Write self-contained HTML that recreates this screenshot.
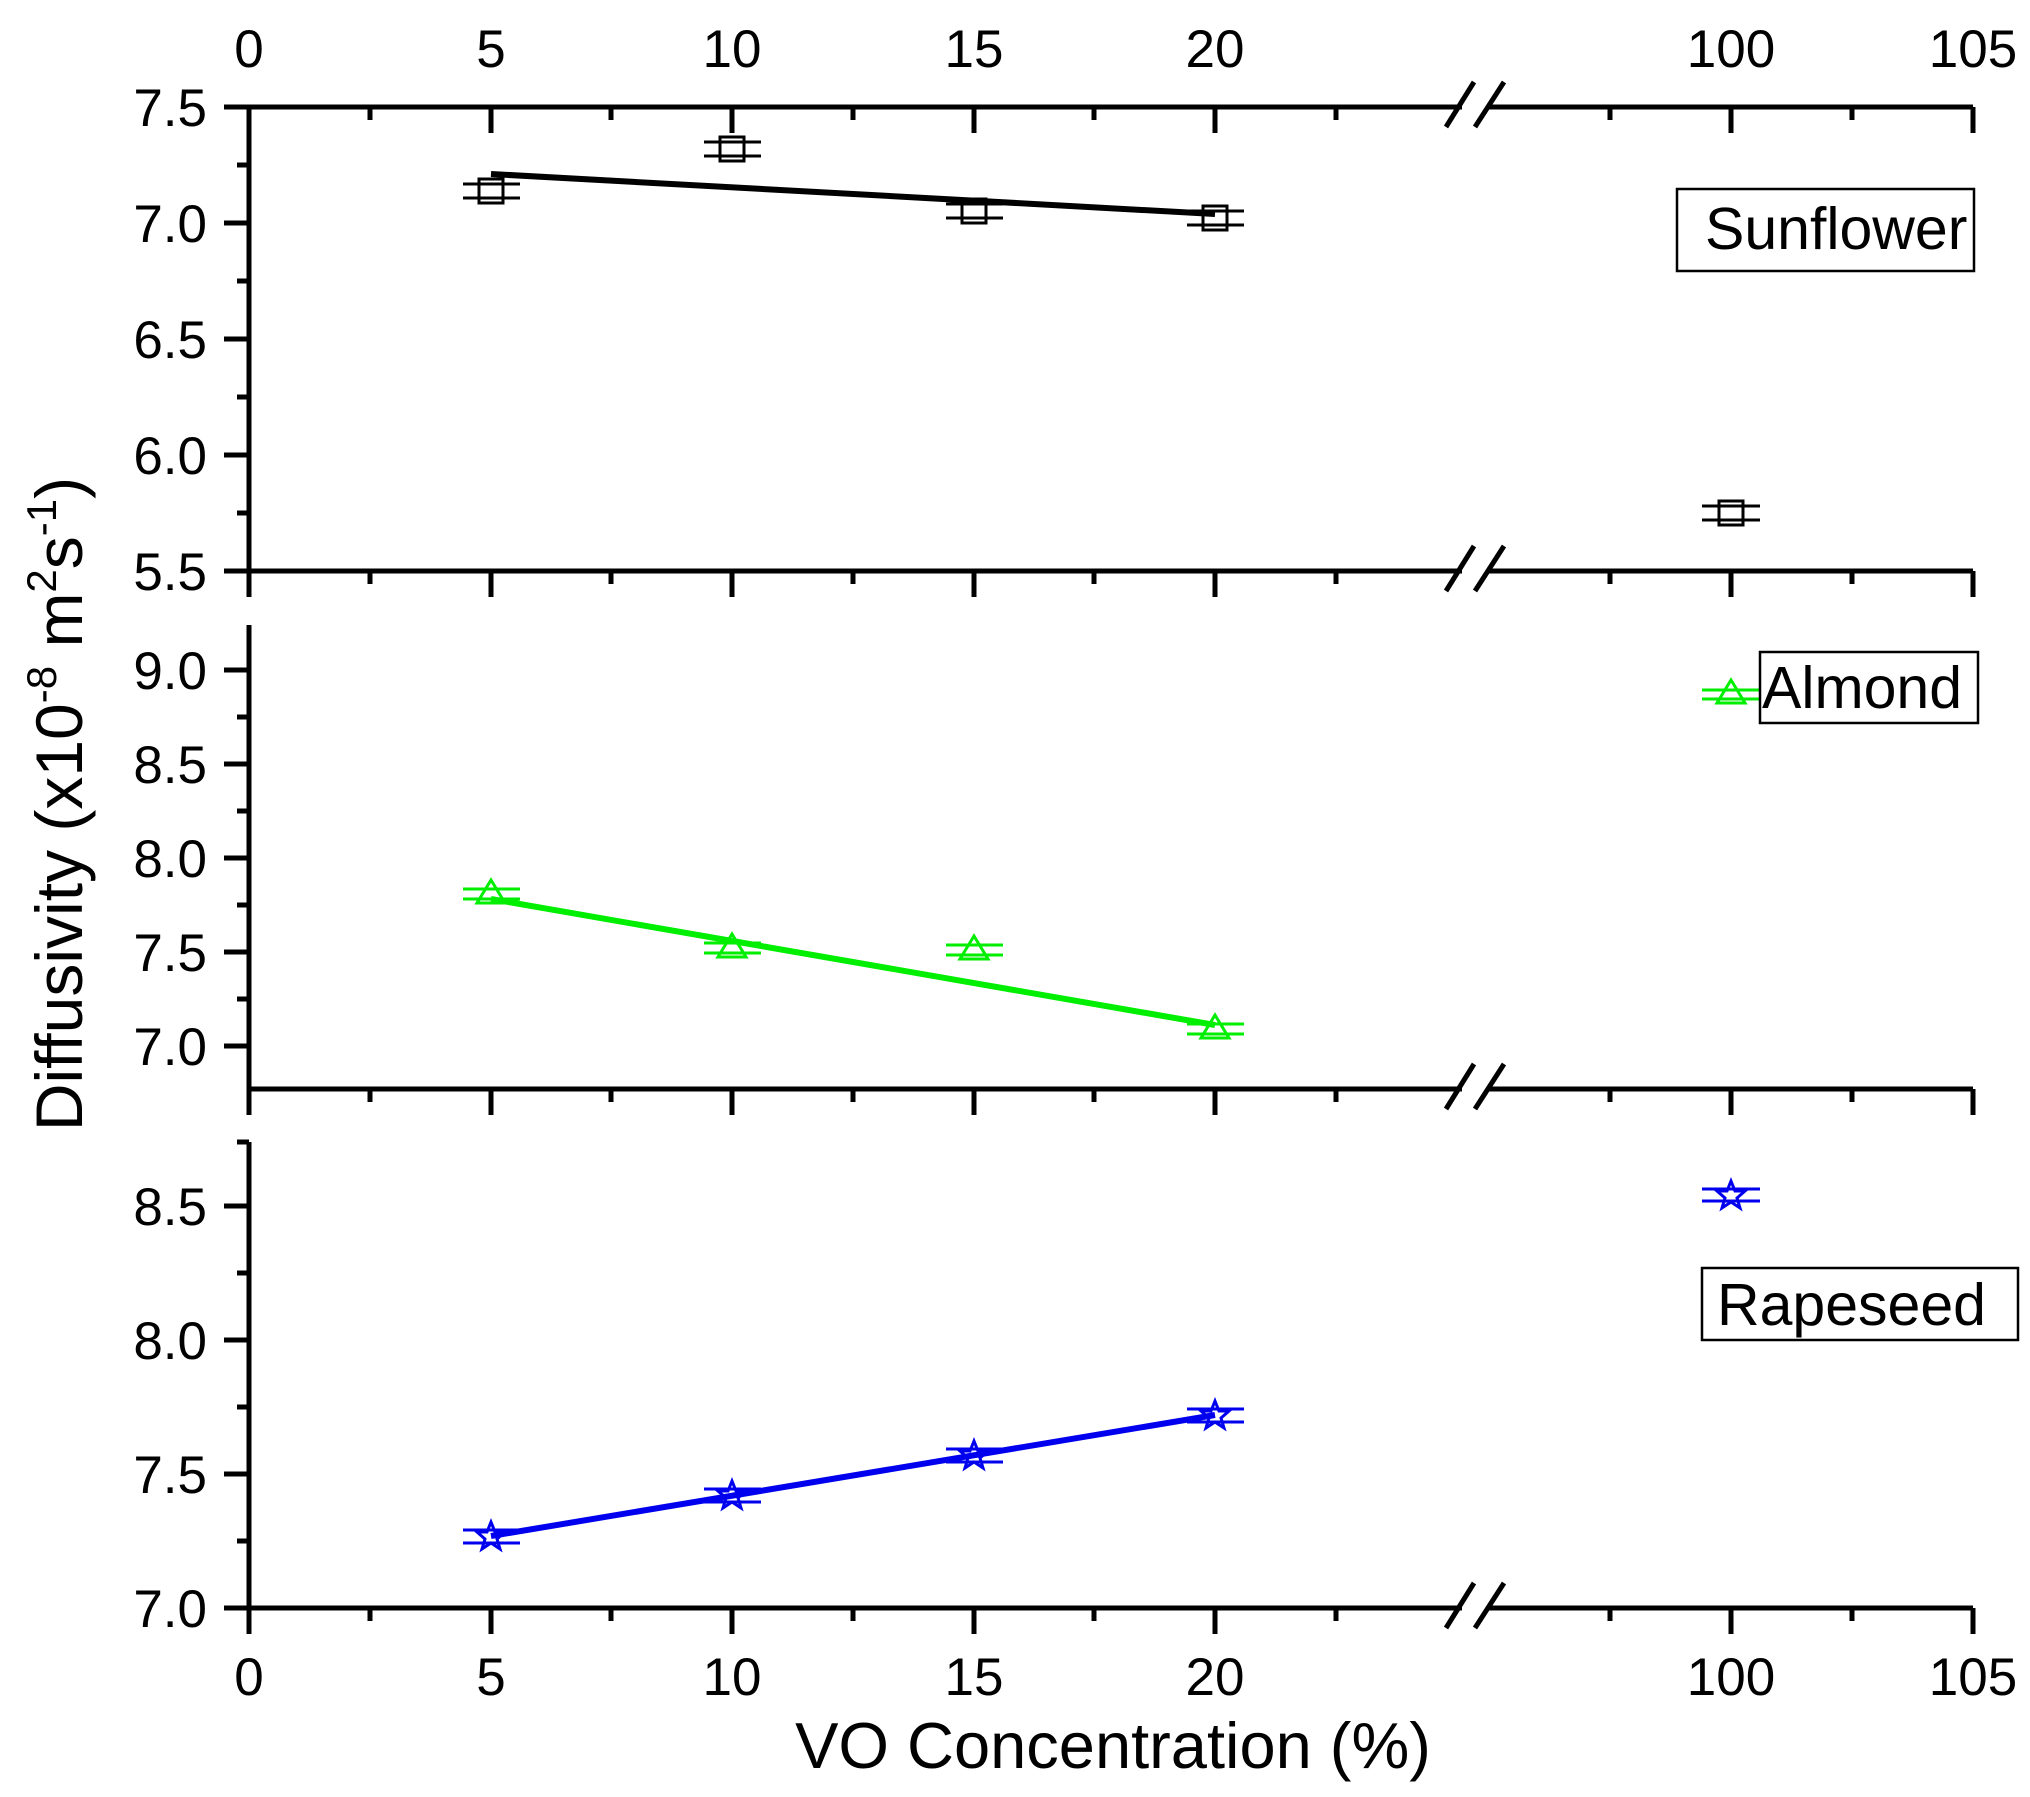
<!DOCTYPE html>
<html><head><meta charset="utf-8"><style>
html,body{margin:0;padding:0;background:#fff}
svg{display:block}
text{font-family:"Liberation Sans",Arial,sans-serif;fill:#000}
</style></head><body>
<svg width="2030" height="1797" viewBox="0 0 2030 1797" xmlns="http://www.w3.org/2000/svg">
<defs><path id="st" d="M0 -14L4 -4L14 -4L6 3L9 13L0 7L-9 13L-6 3L-14 -4L-4 -4Z"/></defs>
<g stroke="#000" stroke-width="5" fill="none">
<line x1="249" y1="107" x2="1973" y2="107"/>
<line x1="249" y1="571" x2="1973" y2="571"/>
<line x1="249" y1="105" x2="249" y2="573"/>
<line x1="249" y1="1089" x2="1973" y2="1089"/>
<line x1="249" y1="625" x2="249" y2="1091"/>
<line x1="249" y1="1608" x2="1973" y2="1608"/>
<line x1="249" y1="1142" x2="249" y2="1610"/>
<path d="M249 107V133M491 107V133M732 107V133M974 107V133M1215 107V133M1731 107V133M1973 107V133
M370 107V120M611 107V120M853 107V120M1094 107V120M1336 107V120M1610 107V120M1852 107V120"/>
<path d="M249 571V597M491 571V597M732 571V597M974 571V597M1215 571V597M1731 571V597M1973 571V597
M370 571V584M611 571V584M853 571V584M1094 571V584M1336 571V584M1610 571V584M1852 571V584"/>
<path d="M249 1089V1115M491 1089V1115M732 1089V1115M974 1089V1115M1215 1089V1115M1731 1089V1115M1973 1089V1115
M370 1089V1102M611 1089V1102M853 1089V1102M1094 1089V1102M1336 1089V1102M1610 1089V1102M1852 1089V1102"/>
<path d="M249 1608V1634M491 1608V1634M732 1608V1634M974 1608V1634M1215 1608V1634M1731 1608V1634M1973 1608V1634
M370 1608V1621M611 1608V1621M853 1608V1621M1094 1608V1621M1336 1608V1621M1610 1608V1621M1852 1608V1621"/>
<path d="M224 107H249M224 223H249M224 339H249M224 455H249M224 571H249
M237 165H249M237 281H249M237 397H249M237 513H249"/>
<path d="M224 670H249M224 764H249M224 858H249M224 952H249M224 1046H249
M237 717H249M237 811H249M237 905H249M237 999H249"/>
<path d="M224 1608H249M224 1474H249M224 1340H249M224 1206H249
M237 1541H249M237 1407H249M237 1273H249M237 1142H249"/>
<g stroke="#fff" stroke-width="12"><line x1="1462" y1="107" x2="1488" y2="107"/><line x1="1462" y1="571" x2="1488" y2="571"/><line x1="1462" y1="1089" x2="1488" y2="1089"/><line x1="1462" y1="1608" x2="1488" y2="1608"/></g>
<path d="M1446 127L1474 82M1475 127L1504 82"/>
<path d="M1446 591L1474 546M1475 591L1504 546"/>
<path d="M1446 1109L1474 1064M1475 1109L1504 1064"/>
<path d="M1446 1628L1474 1583M1475 1628L1504 1583"/>
</g>

<g font-size="53" text-anchor="middle">
<text x="249" y="67">0</text><text x="491" y="67">5</text><text x="732" y="67">10</text><text x="974" y="67">15</text><text x="1215" y="67">20</text><text x="1731" y="67">100</text><text x="1973" y="67">105</text>
<text x="249" y="1695">0</text><text x="491" y="1695">5</text><text x="732" y="1695">10</text><text x="974" y="1695">15</text><text x="1215" y="1695">20</text><text x="1731" y="1695">100</text><text x="1973" y="1695">105</text>
</g>
<g font-size="53" text-anchor="end">
<text x="207" y="126">7.5</text><text x="207" y="242">7.0</text><text x="207" y="358">6.5</text><text x="207" y="474">6.0</text><text x="207" y="590">5.5</text>
<text x="207" y="689">9.0</text><text x="207" y="783">8.5</text><text x="207" y="877">8.0</text><text x="207" y="971">7.5</text><text x="207" y="1065">7.0</text>
<text x="207" y="1225">8.5</text><text x="207" y="1359">8.0</text><text x="207" y="1493">7.5</text><text x="207" y="1627">7.0</text>
</g>
<text x="1113" y="1768" font-size="65" text-anchor="middle">VO Concentration (%)</text>
<text transform="translate(82,804) rotate(-90)" font-size="66" text-anchor="middle">Diffusivity (x10<tspan dy="-26" font-size="42">-8</tspan><tspan dy="26"> m</tspan><tspan dy="-26" font-size="42">2</tspan><tspan dy="26">s</tspan><tspan dy="-26" font-size="42">-1</tspan><tspan dy="26">)</tspan></text>

<g stroke="#000" fill="none" stroke-width="3">
<line x1="491" y1="174" x2="1215" y2="214" stroke-width="6"/>
<path d="M463 184H520M463 198H520M704 142H761M704 156H761M946 204H1003M946 218H1003M1187 211H1244M1187 225H1244M1702 506H1760M1702 520H1760"/>
<rect x="479" y="179" width="24" height="24"/><rect x="720" y="137" width="24" height="24"/><rect x="962" y="199" width="24" height="24"/><rect x="1203" y="206" width="24" height="24"/><rect x="1719" y="501" width="24" height="24"/>
</g>
<g stroke="#00ee00" fill="none" stroke-width="3">
<line x1="491" y1="899" x2="1215" y2="1025" stroke-width="6"/>
<path d="M463 889H520M463 899H520M704 943H761M704 953H761M946 945H1003M946 955H1003M1187 1024H1244M1187 1034H1244M1702 690H1760M1702 699H1760"/>
<path d="M491 880L505 903H477Z M732 934L746 957H718Z M974 936L988 959H960Z M1215 1015L1229 1038H1201Z M1731 680L1745 703H1717Z"/>
</g>
<g stroke="#0000ee" fill="none" stroke-width="3">
<line x1="491" y1="1536" x2="1215" y2="1415" stroke-width="6"/>
<path d="M463 1530H520M463 1543H520M704 1489H761M704 1502H761M946 1449H1003M946 1462H1003M1187 1409H1244M1187 1422H1244M1702 1189H1760M1702 1201H1760"/>
<use href="#st" x="491" y="1536"/><use href="#st" x="732" y="1495"/><use href="#st" x="974" y="1455"/><use href="#st" x="1215" y="1415"/><use href="#st" x="1731" y="1195"/>
</g>

<g fill="#fff" stroke="#000" stroke-width="2.5">
<rect x="1677" y="189" width="297" height="82"/>
<rect x="1760" y="652" width="218" height="71"/>
<rect x="1702" y="1268" width="316" height="72"/>
</g>
<text x="1705" y="249" font-size="59">Sunflower</text>
<text x="1762" y="708" font-size="59">Almond</text>
<text x="1717" y="1325" font-size="59">Rapeseed</text>
</svg>
</body></html>
